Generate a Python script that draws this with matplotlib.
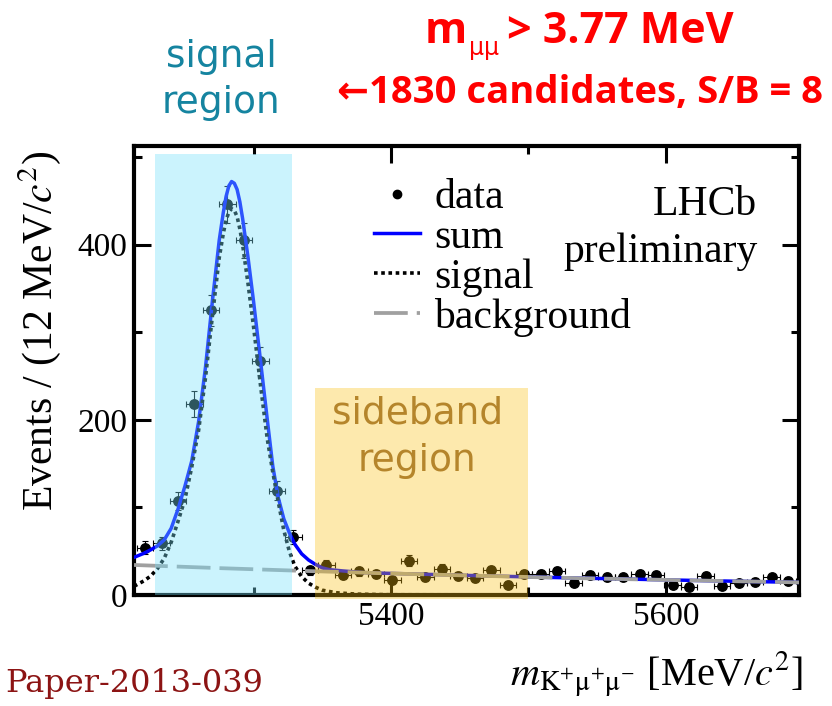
import numpy as np
import matplotlib
matplotlib.use('Agg')
import matplotlib.pyplot as plt
from matplotlib.lines import Line2D
from matplotlib.patches import Rectangle

plt.rcParams['font.family'] = ['Liberation Serif', 'DejaVu Serif']
plt.rcParams['mathtext.fontset'] = 'stix'

# binned data, 12 MeV bins
mass = [5221, 5233, 5245, 5257, 5269, 5281, 5293, 5305, 5317, 5329,
        5341, 5353, 5365, 5377, 5389, 5401, 5413, 5425, 5437, 5449,
        5461, 5473, 5485, 5497, 5509, 5521, 5533, 5545, 5557, 5569,
        5581, 5593, 5605, 5617, 5629, 5641, 5653, 5665, 5677, 5689]
counts = [54, 59, 107, 218, 325, 446, 405, 267, 119, 66,
          28, 34, 23, 27, 24, 17, 39, 21, 30, 22,
          19, 28, 12, 24, 24, 27, 14, 23, 21, 20,
          24, 23, 12, 9, 22, 10, 14, 15, 20, 16]
errs = [7.3, 7.7, 10.3, 14.8, 18.0, 21.1, 20.1, 16.3, 10.9, 8.1,
        5.3, 5.8, 4.8, 5.2, 4.9, 4.1, 6.2, 4.6, 5.5, 4.7,
        4.4, 5.3, 3.5, 4.9, 4.9, 5.2, 3.7, 4.8, 4.6, 4.5,
        4.9, 4.8, 3.5, 3.0, 4.7, 3.2, 3.7, 3.9, 4.5, 4.0]

# fit curves
sum_x = [5213, 5220, 5225, 5230, 5235, 5240, 5245, 5250, 5255, 5260, 5265, 5270,
         5275, 5278, 5280, 5282, 5284, 5286, 5288, 5290, 5292, 5296, 5300, 5305,
         5310, 5314, 5318, 5322, 5326, 5330, 5335, 5340, 5345, 5350, 5355, 5365,
         5380, 5395, 5455, 5515, 5575, 5635, 5697]
sum_y = [43, 47.5, 51.5, 56, 63, 76, 98, 124, 153, 198, 260, 335,
         405, 437, 455, 467, 472, 470, 463, 449, 430, 385, 335, 268,
         200, 147, 111, 87, 71, 58, 47, 40, 35, 31, 29, 27.5,
         25.6, 24.9, 22.4, 20.1, 18.1, 16.2, 14.4]
sig_x = [5213, 5220, 5225, 5230, 5235, 5240, 5245, 5250, 5255, 5260, 5265, 5270,
         5275, 5278, 5280, 5282, 5284, 5286, 5288, 5290, 5292, 5296, 5300, 5305,
         5310, 5314, 5318, 5322, 5326, 5330, 5335, 5340, 5345, 5350, 5360, 5375,
         5400, 5697]
sig_y = [10, 16, 21.5, 30, 42, 60, 84, 109, 146, 188, 248, 318,
         385, 413, 428, 437, 441, 439, 432, 418, 400, 355, 306, 240,
         178, 140, 106, 74, 50, 33, 21, 13.5, 9, 5.5, 2.6, 1,
         0.3, 0]
bkg_x = [5213, 5275, 5335, 5395, 5455, 5515, 5575, 5635, 5697]
bkg_y = [34.3, 30.7, 27.6, 24.8, 22.3, 20.0, 18.0, 16.2, 14.4]

fig = plt.figure(figsize=(8.32, 7.06), dpi=100)
ax = fig.add_axes([0.1611, 0.1572, 0.7993, 0.6353])

ax.errorbar(mass, counts, xerr=6, yerr=errs, fmt='o', color='k', ms=6.8,
            elinewidth=0.8, capsize=2.2, capthick=0.8, zorder=2)
ax.plot(sum_x, sum_y, color='#0000ff', lw=2.5, zorder=3)
ax.plot(sig_x, sig_y, color='k', lw=2.6, ls=(0, (1, 1)), zorder=3)
ax.plot(bkg_x, bkg_y, color='#a0a0a0', lw=2.7, ls=(0, (9, 2.4)), zorder=3)

ax.set_xlim(5213, 5697)
ax.set_ylim(0, 512)
ax.set_xticks([5400, 5600])
ax.set_xticks([5300, 5500], minor=True)
ax.set_yticks([0, 200, 400])
ax.set_yticks([100, 300, 500], minor=True)
ax.tick_params(which='both', direction='in', top=True, right=True, width=2.2,
               labelsize=24, pad=5)
ax.tick_params(which='major', length=12.5)
ax.tick_params(which='minor', length=6)
for s in ax.spines.values():
    s.set_linewidth(3)

ax.set_ylabel('Events / (12 MeV/$c^{2}$)', fontsize=30)
ax.yaxis.set_label_coords(-0.107, 0.59)
ax.set_xlabel(r'$m_{\mathrm{K^{+}μ^{+}μ^{-}}}$ [MeV/$c^{2}$]', fontsize=29, loc='right')
ax.xaxis.set_label_coords(1.006, -0.122)

# legend
handles = [Line2D([], [], marker='o', ls='none', color='k', ms=6),
           Line2D([], [], color='#0000ff', lw=2.5),
           Line2D([], [], color='k', lw=2.6, ls=(0, (1, 1))),
           Line2D([], [], color='#a0a0a0', lw=2.7, ls=(0, (9, 2.4)))]
ax.legend(handles, ['data', 'sum', 'signal', 'background'], loc='upper left',
          bbox_to_anchor=(0.361, 0.928), frameon=False, fontsize=30,
          handlelength=1.1, handletextpad=0.35, labelspacing=0.03,
          borderpad=0, borderaxespad=0)

ax.text(0.937, 0.847, 'LHCb', transform=ax.transAxes, ha='right', va='baseline', fontsize=30)
ax.text(0.937, 0.742, 'preliminary', transform=ax.transAxes, ha='right', va='baseline', fontsize=30)

# highlighted regions drawn on top
ax.add_patch(Rectangle((5228, 0), 100, 503, facecolor=(0.47, 0.88, 0.98), alpha=0.38,
                       lw=0, zorder=5, clip_on=False))
ax.add_patch(Rectangle((5345, -5), 155, 241, facecolor=(0.98, 0.75, 0.06), alpha=0.34,
                       lw=0, zorder=5, clip_on=False))

fig.text(221 / 832, 1 - 80 / 706, 'signal\nregion', ha='center', va='center',
         fontsize=27, family='DejaVu Sans', color='#1584a0', linespacing=1.35)
ax.text(5419, 180, 'sideband\nregion', ha='center', va='center', fontsize=27,
        family='DejaVu Sans', color='#b5852b', linespacing=1.4, zorder=6)

red = '#ff0000'
fig.text(425 / 832, 1 - 43 / 706, 'm', fontsize=31, weight='bold', family='Open Sans',
         color=red, va='baseline')
fig.text(469 / 832, 1 - 55 / 706, 'μμ', fontsize=17, family='DejaVu Sans',
         color=red, va='baseline')
fig.text(507 / 832, 1 - 43 / 706, '> 3.77 MeV', fontsize=31, weight='bold',
         family='Open Sans', color=red, va='baseline')
fig.text(337 / 832, 1 - 103 / 706, '←1830 candidates, S/B = 8', fontsize=27.5,
         weight='bold', family=['Open Sans', 'DejaVu Sans'], color=red, va='baseline')

fig.text(5 / 832, 1 - 692 / 706, 'Paper-2013-039', fontsize=23, family='DejaVu Serif',
         color='#8c1414', va='baseline')

fig.savefig('out.png', dpi=100)
